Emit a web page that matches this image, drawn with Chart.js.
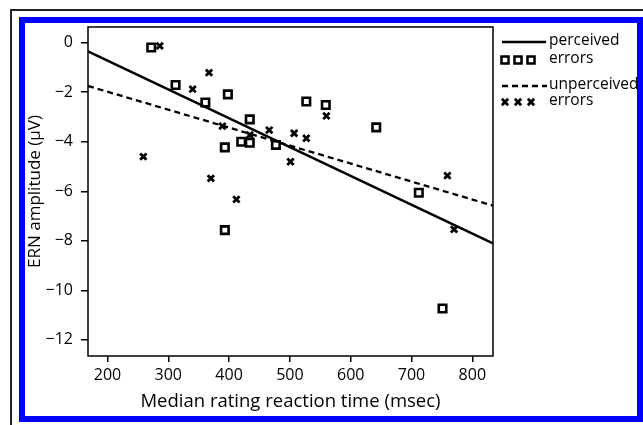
<!DOCTYPE html>
<html>
<head>
<meta charset="utf-8">
<script src="https://cdn.jsdelivr.net/npm/chart.js@4.4.1/dist/chart.umd.min.js"></script>
<style>
  body { margin: 0; background: #fff; }
  #wrap { position: relative; width: 643px; height: 425px; overflow: hidden; }
  #black { position: absolute; left: 10px; top: 9px; width: 700px; height: 500px;
           border-top: 2px solid #222; border-left: 2px solid #222; }
  #blue { position: absolute; left: 19px; top: 17px; width: 612px; height: 393px;
          border: 6px solid #0000ff; }
  canvas { position: absolute; left: 0; top: 0; }
</style>
</head>
<body>
<div id="wrap">
  <div id="black"></div>
  <div id="blue"></div>
  <canvas id="chart" width="643" height="425"></canvas>
</div>
<script>
// Perceived errors (squares)
const perceivedX = [272, 312, 361, 398, 434, 393, 420, 434, 477, 527, 559, 642, 712, 393, 751];
const perceivedY = [-0.2, -1.71, -2.42, -2.09, -3.1, -4.23, -4.0, -4.04, -4.13, -2.38, -2.52, -3.42, -6.06, -7.57, -10.73];

// Unperceived errors (crosses)
const unperceivedX = [286, 367, 340, 259, 389, 370, 412, 434, 466, 507, 527, 501, 560, 759, 770];
const unperceivedY = [-0.13, -1.21, -1.88, -4.6, -3.37, -5.48, -6.33, -3.73, -3.53, -3.66, -3.86, -4.81, -2.96, -5.37, -7.54];

// Fit lines (end points at the axis limits)
const fitX = [168, 834];
const perceivedFit = [-0.35, -8.1];
const unperceivedFit = [-1.75, -6.58];

// Tick labels
const xTicks = [200, 300, 400, 500, 600, 700, 800];
const yTicks = [0, -2, -4, -6, -8, -10, -12];

const FONT = "'Open Sans', sans-serif";

function toPoints(xs, ys) {
    return xs.map((x, i) => ({ x: x, y: ys[i] }));
}

function minusSign(v) {
    return String(v).replace('-', '\u2212');
}

// Box around the plot area
const frame = {
    id: 'frame',
    afterDraw(chart) {
        const { ctx, chartArea: a } = chart;
        ctx.save();
        ctx.strokeStyle = '#000';
        ctx.lineWidth = 1.5;
        ctx.strokeRect(a.left, a.top, a.right - a.left, a.bottom - a.top);
        ctx.restore();
    }
};

// Legend to the right of the plot
const sideLegend = {
    id: 'sideLegend',
    afterDraw(chart) {
        const ctx = chart.ctx;
        ctx.save();
        ctx.strokeStyle = '#000';
        ctx.font = '15.5px ' + FONT;
        ctx.textBaseline = 'middle';

        // perceived errors
        ctx.lineWidth = 2.5;
        ctx.beginPath();
        ctx.moveTo(502, 42);
        ctx.lineTo(546, 42);
        ctx.stroke();
        ctx.fillStyle = '#fff';
        [505, 518, 531].forEach(x => {
            Chart.helpers.drawPoint(ctx, { pointStyle: 'rect', radius: 5, borderWidth: 2.8 }, x, 60);
        });
        ctx.fillStyle = '#000';
        ctx.fillText('perceived', 549, 41);
        ctx.fillText('errors', 549, 59);

        // unperceived errors
        ctx.lineWidth = 2.3;
        ctx.setLineDash([6, 4]);
        ctx.beginPath();
        ctx.moveTo(502, 86);
        ctx.lineTo(547, 86);
        ctx.stroke();
        ctx.setLineDash([]);
        ctx.lineWidth = 2.8;
        [505, 518, 531].forEach(x => {
            Chart.helpers.drawPoint(ctx, { pointStyle: 'crossRot', radius: 4.5, borderWidth: 2.8 }, x, 102);
        });
        ctx.fillText('unperceived', 549, 85);
        ctx.fillText('errors', 549, 101);
        ctx.restore();
    }
};

const ctx = document.getElementById('chart').getContext('2d');
new Chart(ctx, {
    type: 'scatter',
    data: {
        datasets: [
            {
                label: 'perceived errors',
                data: toPoints(perceivedX, perceivedY),
                pointStyle: 'rect',
                pointRadius: 5.3,
                pointBorderWidth: 2.6,
                pointBorderColor: '#000',
                pointBackgroundColor: 'rgba(0,0,0,0)'
            },
            {
                label: 'unperceived errors',
                data: toPoints(unperceivedX, unperceivedY),
                pointStyle: 'crossRot',
                pointRadius: 4.5,
                pointBorderWidth: 2.8,
                pointBorderColor: '#000'
            },
            {
                label: 'perceived fit',
                data: toPoints(fitX, perceivedFit),
                showLine: true,
                borderColor: '#000',
                borderWidth: 2.5,
                pointRadius: 0
            },
            {
                label: 'unperceived fit',
                data: toPoints(fitX, unperceivedFit),
                showLine: true,
                borderColor: '#000',
                borderWidth: 2.3,
                borderDash: [6, 4],
                pointRadius: 0
            }
        ]
    },
    options: {
        responsive: false,
        animation: false,
        layout: { padding: { left: 0, right: 150, top: 27, bottom: 0 } },
        plugins: {
            legend: { display: false },
            tooltip: { enabled: false }
        },
        scales: {
            x: {
                type: 'linear',
                min: 168,
                max: 834,
                afterBuildTicks: s => { s.ticks = xTicks.map(v => ({ value: v })); },
                afterFit: s => { s.height = 69; },
                grid: { drawOnChartArea: false, tickLength: 6, color: '#000', lineWidth: 1.5 },
                border: { display: false },
                ticks: { color: '#000', padding: 4, font: { family: FONT, size: 16 }, maxRotation: 0 },
                title: {
                    display: true,
                    text: 'Median rating reaction time (msec)',
                    color: '#000',
                    font: { family: FONT, size: 18.5 },
                    padding: { top: 0, bottom: 12 }
                }
            },
            y: {
                type: 'linear',
                min: -12.65,
                max: 0.63,
                afterBuildTicks: s => { s.ticks = yTicks.map(v => ({ value: v })); },
                afterFit: s => { s.width = 88; },
                grid: { drawOnChartArea: false, tickLength: 7, color: '#000', lineWidth: 1.5 },
                border: { display: false },
                ticks: { color: '#000', padding: 8, font: { family: FONT, size: 16 }, callback: v => minusSign(v) },
                title: {
                    display: true,
                    text: 'ERN amplitude (\u00b5V)',
                    color: '#000',
                    font: { family: FONT, size: 17 },
                    padding: { top: 25, bottom: 0 }
                }
            }
        }
    },
    plugins: [frame, sideLegend]
});
</script>
</body>
</html>
